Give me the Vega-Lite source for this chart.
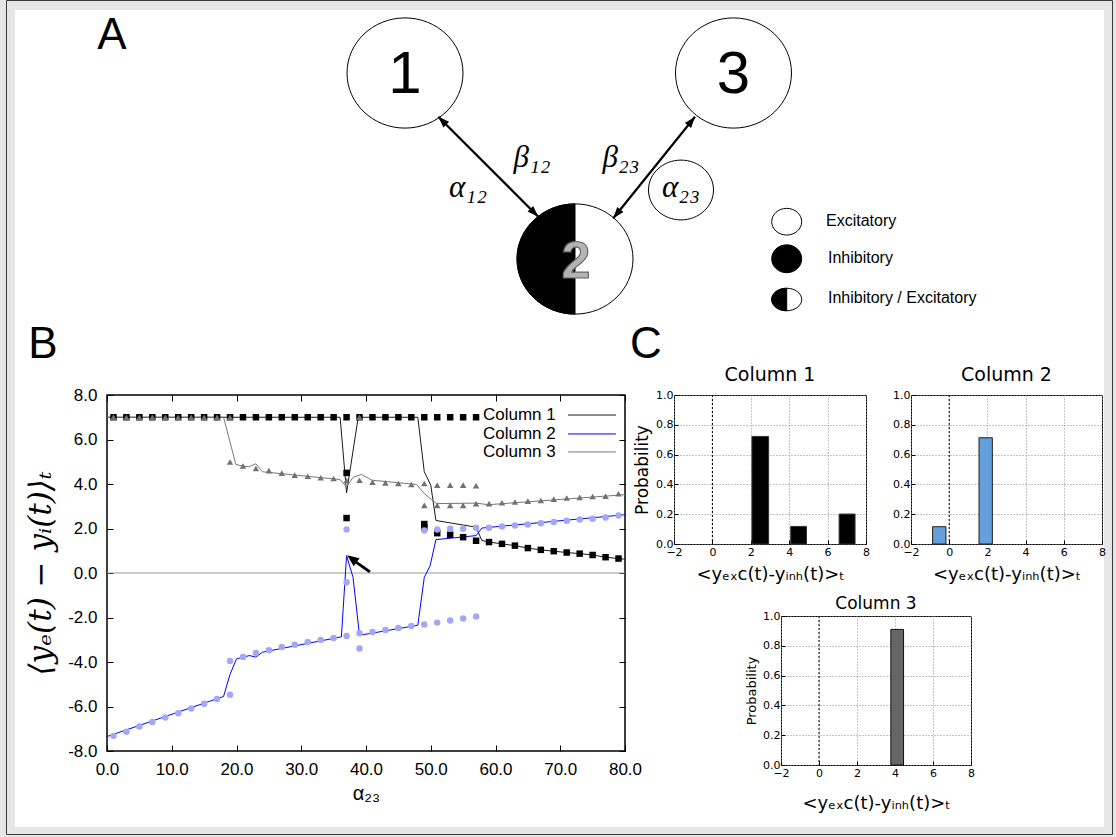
{
  "$schema": "https://vega.github.io/schema/vega-lite/v6.json",
  "background": "#e6e6e6",
  "padding": {"left": 6, "top": 0, "right": 3, "bottom": 2},
  "config": {
    "view": {"stroke": null},
    "font": "Liberation Sans",
    "axis": {"labelColor": "#000", "titleColor": "#000", "tickColor": "#000", "labelFlush": false, "labelOverlap": false},
    "title": {"color": "#000"}
  },
  "datasets": {
    "lines": [
      {"s":"Column 1","x":0,"y":7},{"s":"Column 1","x":36,"y":7},{"s":"Column 1","x":37,"y":3.6},{"s":"Column 1","x":38.8,"y":7},{"s":"Column 1","x":48,"y":7},{"s":"Column 1","x":49,"y":4.55},{"s":"Column 1","x":50,"y":3.95},{"s":"Column 1","x":50.8,"y":2.36},{"s":"Column 1","x":57,"y":2.06},{"s":"Column 1","x":57.9,"y":1.46},{"s":"Column 1","x":59,"y":1.39},{"s":"Column 1","x":61,"y":1.31},{"s":"Column 1","x":63,"y":1.23},{"s":"Column 1","x":65,"y":1.12},{"s":"Column 1","x":67,"y":1.04},{"s":"Column 1","x":69,"y":0.98},{"s":"Column 1","x":71,"y":0.92},{"s":"Column 1","x":73,"y":0.87},{"s":"Column 1","x":75,"y":0.81},{"s":"Column 1","x":77,"y":0.71},{"s":"Column 1","x":79,"y":0.65},{"s":"Column 1","x":80,"y":0.62},
      {"s":"Column 2","x":0,"y":-7.35},{"s":"Column 2","x":18,"y":-5.55},{"s":"Column 2","x":19,"y":-4.56},{"s":"Column 2","x":20,"y":-3.86},{"s":"Column 2","x":22,"y":-3.71},{"s":"Column 2","x":23,"y":-3.78},{"s":"Column 2","x":24,"y":-3.56},{"s":"Column 2","x":36.2,"y":-2.87},{"s":"Column 2","x":37,"y":0.78},{"s":"Column 2","x":38,"y":-0.2},{"s":"Column 2","x":39,"y":-2.8},{"s":"Column 2","x":48,"y":-2.35},{"s":"Column 2","x":49,"y":-0.2},{"s":"Column 2","x":49.9,"y":0.33},{"s":"Column 2","x":50.8,"y":1.5},{"s":"Column 2","x":57,"y":1.68},{"s":"Column 2","x":57.9,"y":2.02},{"s":"Column 2","x":80,"y":2.62},
      {"s":"Column 3","x":0,"y":7},{"s":"Column 3","x":18,"y":7},{"s":"Column 3","x":19.9,"y":4.88},{"s":"Column 3","x":21,"y":4.8},{"s":"Column 3","x":22,"y":4.78},{"s":"Column 3","x":23,"y":4.91},{"s":"Column 3","x":24,"y":4.55},{"s":"Column 3","x":36,"y":4.2},{"s":"Column 3","x":37,"y":3.87},{"s":"Column 3","x":38,"y":4.3},{"s":"Column 3","x":39.3,"y":4.43},{"s":"Column 3","x":40.9,"y":4.17},{"s":"Column 3","x":47.8,"y":3.98},{"s":"Column 3","x":49,"y":3.57},{"s":"Column 3","x":50.9,"y":3.12},{"s":"Column 3","x":57,"y":3.14},{"s":"Column 3","x":58.9,"y":3.07},{"s":"Column 3","x":80,"y":3.52}
    ],
    "pts": [
      {"m":"Column 1","x":1,"y":7},{"m":"Column 1","x":3,"y":7},{"m":"Column 1","x":5,"y":7},{"m":"Column 1","x":7,"y":7},{"m":"Column 1","x":9,"y":7},{"m":"Column 1","x":11,"y":7},{"m":"Column 1","x":13,"y":7},{"m":"Column 1","x":15,"y":7},{"m":"Column 1","x":17,"y":7},{"m":"Column 1","x":19,"y":7},{"m":"Column 1","x":21,"y":7},{"m":"Column 1","x":23,"y":7},{"m":"Column 1","x":25,"y":7},{"m":"Column 1","x":27,"y":7},{"m":"Column 1","x":29,"y":7},{"m":"Column 1","x":31,"y":7},{"m":"Column 1","x":33,"y":7},{"m":"Column 1","x":35,"y":7},{"m":"Column 1","x":37,"y":7},{"m":"Column 1","x":39,"y":7},{"m":"Column 1","x":41,"y":7},{"m":"Column 1","x":43,"y":7},{"m":"Column 1","x":45,"y":7},{"m":"Column 1","x":47,"y":7},{"m":"Column 1","x":49,"y":7},{"m":"Column 1","x":51,"y":7},{"m":"Column 1","x":53,"y":7},{"m":"Column 1","x":55,"y":7},{"m":"Column 1","x":57,"y":7},
      {"m":"Column 1","x":37,"y":4.5},{"m":"Column 1","x":37,"y":2.47},{"m":"Column 1","x":49,"y":2.2},{"m":"Column 1","x":49,"y":2.05},{"m":"Column 1","x":51,"y":1.79},{"m":"Column 1","x":53,"y":1.72},{"m":"Column 1","x":55,"y":1.61},{"m":"Column 1","x":57,"y":1.45},{"m":"Column 1","x":59,"y":1.39},{"m":"Column 1","x":61,"y":1.31},{"m":"Column 1","x":63,"y":1.23},{"m":"Column 1","x":65,"y":1.12},{"m":"Column 1","x":67,"y":1.04},{"m":"Column 1","x":69,"y":0.98},{"m":"Column 1","x":71,"y":0.92},{"m":"Column 1","x":73,"y":0.87},{"m":"Column 1","x":75,"y":0.81},{"m":"Column 1","x":77,"y":0.71},{"m":"Column 1","x":79,"y":0.65},
      {"m":"Column 2","x":1,"y":-7.32},{"m":"Column 2","x":3,"y":-7.13},{"m":"Column 2","x":5,"y":-6.9},{"m":"Column 2","x":7,"y":-6.7},{"m":"Column 2","x":9,"y":-6.49},{"m":"Column 2","x":11,"y":-6.3},{"m":"Column 2","x":13,"y":-6.09},{"m":"Column 2","x":15,"y":-5.88},{"m":"Column 2","x":17,"y":-5.66},{"m":"Column 2","x":19,"y":-3.96},{"m":"Column 2","x":19,"y":-5.47},{"m":"Column 2","x":21,"y":-3.77},{"m":"Column 2","x":23,"y":-3.6},{"m":"Column 2","x":25,"y":-3.47},{"m":"Column 2","x":27,"y":-3.33},{"m":"Column 2","x":29,"y":-3.22},{"m":"Column 2","x":31,"y":-3.1},{"m":"Column 2","x":33,"y":-3.01},{"m":"Column 2","x":35,"y":-2.92},{"m":"Column 2","x":37,"y":-2.83},{"m":"Column 2","x":37,"y":-0.42},{"m":"Column 2","x":37,"y":1.96},{"m":"Column 2","x":39,"y":-2.71},{"m":"Column 2","x":39,"y":-3.39},{"m":"Column 2","x":41,"y":-2.65},{"m":"Column 2","x":43,"y":-2.56},{"m":"Column 2","x":45,"y":-2.47},{"m":"Column 2","x":47,"y":-2.38},{"m":"Column 2","x":49,"y":-2.31},{"m":"Column 2","x":49,"y":1.91},{"m":"Column 2","x":51,"y":-2.23},{"m":"Column 2","x":51,"y":1.96},{"m":"Column 2","x":53,"y":-2.14},{"m":"Column 2","x":53,"y":1.99},{"m":"Column 2","x":55,"y":-2.05},{"m":"Column 2","x":55,"y":1.99},{"m":"Column 2","x":57,"y":-1.96},{"m":"Column 2","x":57,"y":2.03},{"m":"Column 2","x":59,"y":2.03},{"m":"Column 2","x":61,"y":2.09},{"m":"Column 2","x":63,"y":2.14},{"m":"Column 2","x":65,"y":2.18},{"m":"Column 2","x":67,"y":2.24},{"m":"Column 2","x":69,"y":2.29},{"m":"Column 2","x":71,"y":2.35},{"m":"Column 2","x":73,"y":2.4},{"m":"Column 2","x":75,"y":2.44},{"m":"Column 2","x":77,"y":2.49},{"m":"Column 2","x":79,"y":2.58},
      {"m":"Column 3","x":1,"y":7},{"m":"Column 3","x":3,"y":7},{"m":"Column 3","x":5,"y":7},{"m":"Column 3","x":7,"y":7},{"m":"Column 3","x":9,"y":7},{"m":"Column 3","x":11,"y":7},{"m":"Column 3","x":13,"y":7},{"m":"Column 3","x":15,"y":7},{"m":"Column 3","x":17,"y":7},{"m":"Column 3","x":19,"y":7},{"m":"Column 3","x":39,"y":7},
      {"m":"Column 3","x":19,"y":4.99},{"m":"Column 3","x":21,"y":4.81},{"m":"Column 3","x":23,"y":4.7},{"m":"Column 3","x":25,"y":4.6},{"m":"Column 3","x":27,"y":4.49},{"m":"Column 3","x":29,"y":4.4},{"m":"Column 3","x":31,"y":4.35},{"m":"Column 3","x":33,"y":4.28},{"m":"Column 3","x":35,"y":4.25},{"m":"Column 3","x":37,"y":4.16},{"m":"Column 3","x":39,"y":4.17},{"m":"Column 3","x":41,"y":4.08},{"m":"Column 3","x":43,"y":4.05},{"m":"Column 3","x":45,"y":4.02},{"m":"Column 3","x":47,"y":3.98},{"m":"Column 3","x":49,"y":4.02},{"m":"Column 3","x":49,"y":3.04},{"m":"Column 3","x":51,"y":3.95},{"m":"Column 3","x":51,"y":3.04},{"m":"Column 3","x":53,"y":3.95},{"m":"Column 3","x":53,"y":3.04},{"m":"Column 3","x":55,"y":3.95},{"m":"Column 3","x":55,"y":3.04},{"m":"Column 3","x":57,"y":3.92},{"m":"Column 3","x":57,"y":3.12},{"m":"Column 3","x":59,"y":3.12},{"m":"Column 3","x":61,"y":3.16},{"m":"Column 3","x":63,"y":3.19},{"m":"Column 3","x":65,"y":3.23},{"m":"Column 3","x":67,"y":3.26},{"m":"Column 3","x":69,"y":3.32},{"m":"Column 3","x":71,"y":3.37},{"m":"Column 3","x":73,"y":3.4},{"m":"Column 3","x":75,"y":3.44},{"m":"Column 3","x":77,"y":3.45},{"m":"Column 3","x":79,"y":3.56}
    ]
  },
  "bounds": "flush",
  "spacing": 45,
  "vconcat": [
    {
      "width": 1089,
      "height": 340,
      "view": {"stroke": null},
      "layer": [
        {
          "data": {"values": [{"x": -8.5, "y": -9.5, "x2": 1097.5, "y2": 824.5}]},
          "mark": {"type": "rect", "filled": false, "color": "#3a3a3a", "strokeWidth": 1},
          "encoding": {
            "x": {"field": "x", "type": "quantitative", "scale": {"domain": [0, 1089], "nice": false, "zero": false}, "axis": null},
            "x2": {"field": "x2"},
            "y": {"field": "y", "type": "quantitative", "scale": {"domain": [0, 340], "nice": false, "zero": false, "reverse": true}, "axis": null},
            "y2": {"field": "y2"}
          }
        },
        {
          "data": {"values": [{"x": 0, "y": 0, "x2": 1089, "y2": 817}]},
          "mark": {"type": "rect", "fill": "#ffffff", "strokeWidth": 0},
          "encoding": {
            "x": {"field": "x", "type": "quantitative", "axis": null},
            "x2": {"field": "x2"},
            "y": {"field": "y", "type": "quantitative", "axis": null},
            "y2": {"field": "y2"}
          }
        },
        {
          "data": {"values": [{"x": 390, "y": 63}, {"x": 718.5, "y": 63}, {"x": 560, "y": 249}]},
          "mark": {"type": "point", "shape": "M-1,0A1,0.95 0 1,1 1,0A1,0.95 0 1,1 -1,0Z", "size": 13456, "filled": true, "fill": "#ffffff", "stroke": "#000000", "strokeWidth": 1, "opacity": 1},
          "encoding": {
            "x": {"field": "x", "type": "quantitative", "axis": null},
            "y": {"field": "y", "type": "quantitative", "axis": null}
          }
        },
        {
          "data": {"values": [{"x": 560, "y": 249}]},
          "mark": {"type": "point", "shape": "M0,-0.95A1,0.95 0 0,0 0,0.95Z", "size": 13456, "filled": true, "fill": "#000000", "stroke": "#000000", "strokeWidth": 1, "opacity": 1},
          "encoding": {
            "x": {"field": "x", "type": "quantitative", "axis": null},
            "y": {"field": "y", "type": "quantitative", "axis": null}
          }
        },
        {
          "data": {"values": [{"x": 390, "y": 65, "t": "1"}, {"x": 718.5, "y": 65, "t": "3"}]},
          "mark": {"type": "text", "font": "Liberation Sans", "fontSize": 60, "align": "center", "baseline": "middle", "color": "#000"},
          "encoding": {
            "x": {"field": "x", "type": "quantitative", "axis": null},
            "y": {"field": "y", "type": "quantitative", "axis": null},
            "text": {"field": "t"}
          }
        },
        {
          "data": {"values": [{"x": 561, "y": 252, "t": "2"}]},
          "mark": {"type": "text", "font": "Liberation Sans", "fontSize": 52, "fontWeight": "bold", "align": "center", "baseline": "middle", "fill": "#b4b4b4", "stroke": "#666666", "strokeWidth": 1.2},
          "encoding": {
            "x": {"field": "x", "type": "quantitative", "axis": null},
            "y": {"field": "y", "type": "quantitative", "axis": null},
            "text": {"field": "t"}
          }
        },
        {
          "data": {"values": [{"x": 423.3, "y": 106.7, "x2": 523.3, "y2": 206.7}, {"x": 598.3, "y": 208.3, "x2": 680, "y2": 106.7}]},
          "mark": {"type": "rule", "color": "#000", "strokeWidth": 2.2},
          "encoding": {
            "x": {"field": "x", "type": "quantitative", "axis": null},
            "y": {"field": "y", "type": "quantitative", "axis": null},
            "x2": {"field": "x2"},
            "y2": {"field": "y2"}
          }
        },
        {
          "data": {"values": [{"x": 423.3, "y": 106.7}]},
          "mark": {"type": "point", "shape": "M0,0L0.5,1.4L-0.5,1.4Z", "size": 256, "angle": 315, "filled": true, "color": "#000", "opacity": 1},
          "encoding": {"x": {"field": "x", "type": "quantitative", "axis": null}, "y": {"field": "y", "type": "quantitative", "axis": null}}
        },
        {
          "data": {"values": [{"x": 523.3, "y": 206.7}]},
          "mark": {"type": "point", "shape": "M0,0L0.5,1.4L-0.5,1.4Z", "size": 256, "angle": 135, "filled": true, "color": "#000", "opacity": 1},
          "encoding": {"x": {"field": "x", "type": "quantitative", "axis": null}, "y": {"field": "y", "type": "quantitative", "axis": null}}
        },
        {
          "data": {"values": [{"x": 598.3, "y": 208.3}]},
          "mark": {"type": "point", "shape": "M0,0L0.5,1.4L-0.5,1.4Z", "size": 256, "angle": 218.8, "filled": true, "color": "#000", "opacity": 1},
          "encoding": {"x": {"field": "x", "type": "quantitative", "axis": null}, "y": {"field": "y", "type": "quantitative", "axis": null}}
        },
        {
          "data": {"values": [{"x": 680, "y": 106.7}]},
          "mark": {"type": "point", "shape": "M0,0L0.5,1.4L-0.5,1.4Z", "size": 256, "angle": 38.8, "filled": true, "color": "#000", "opacity": 1},
          "encoding": {"x": {"field": "x", "type": "quantitative", "axis": null}, "y": {"field": "y", "type": "quantitative", "axis": null}}
        },
        {
          "data": {"values": [{"x": 453, "y": 178, "t": "α₁₂"}, {"x": 517, "y": 148, "t": "β₁₂"}, {"x": 606, "y": 148, "t": "β₂₃"}, {"x": 666, "y": 178, "t": "α₂₃"}]},
          "mark": {"type": "text", "font": "Liberation Serif", "fontSize": 31, "fontStyle": "italic", "align": "center", "baseline": "middle", "color": "#000"},
          "encoding": {
            "x": {"field": "x", "type": "quantitative", "axis": null},
            "y": {"field": "y", "type": "quantitative", "axis": null},
            "text": {"field": "t"}
          }
        },
        {
          "data": {"values": [{"x": 666, "y": 180}]},
          "mark": {"type": "point", "shape": "M-1,0A1,0.92 0 1,1 1,0A1,0.92 0 1,1 -1,0Z", "size": 4225, "filled": false, "color": "#000", "strokeWidth": 1, "opacity": 1},
          "encoding": {"x": {"field": "x", "type": "quantitative", "axis": null}, "y": {"field": "y", "type": "quantitative", "axis": null}}
        },
        {
          "data": {"values": [{"x": 771.7, "y": 211.7}]},
          "mark": {"type": "point", "shape": "M-1,0A1,0.89 0 1,1 1,0A1,0.89 0 1,1 -1,0Z", "size": 900, "filled": true, "fill": "#fff", "stroke": "#000", "strokeWidth": 1, "opacity": 1},
          "encoding": {"x": {"field": "x", "type": "quantitative", "axis": null}, "y": {"field": "y", "type": "quantitative", "axis": null}}
        },
        {
          "data": {"values": [{"x": 771.7, "y": 248.8}]},
          "mark": {"type": "point", "shape": "M-1,0A1,0.93 0 1,1 1,0A1,0.93 0 1,1 -1,0Z", "size": 900, "filled": true, "fill": "#000", "stroke": "#000", "strokeWidth": 1, "opacity": 1},
          "encoding": {"x": {"field": "x", "type": "quantitative", "axis": null}, "y": {"field": "y", "type": "quantitative", "axis": null}}
        },
        {
          "data": {"values": [{"x": 771.7, "y": 289.5}]},
          "mark": {"type": "point", "shape": "M-1,0A1,0.75 0 1,1 1,0A1,0.75 0 1,1 -1,0Z", "size": 900, "filled": true, "fill": "#fff", "stroke": "#000", "strokeWidth": 1, "opacity": 1},
          "encoding": {"x": {"field": "x", "type": "quantitative", "axis": null}, "y": {"field": "y", "type": "quantitative", "axis": null}}
        },
        {
          "data": {"values": [{"x": 771.7, "y": 289.5}]},
          "mark": {"type": "point", "shape": "M0,-0.75A1,0.75 0 0,0 0,0.75Z", "size": 900, "filled": true, "fill": "#000", "stroke": "#000", "strokeWidth": 1, "opacity": 1},
          "encoding": {"x": {"field": "x", "type": "quantitative", "axis": null}, "y": {"field": "y", "type": "quantitative", "axis": null}}
        },
        {
          "data": {"values": [{"x": 811, "y": 210.7, "t": "Excitatory"}, {"x": 813, "y": 248, "t": "Inhibitory"}, {"x": 813, "y": 288, "t": "Inhibitory / Excitatory"}]},
          "mark": {"type": "text", "font": "Liberation Sans", "fontSize": 16, "align": "left", "baseline": "middle", "color": "#000"},
          "encoding": {
            "x": {"field": "x", "type": "quantitative", "axis": null},
            "y": {"field": "y", "type": "quantitative", "axis": null},
            "text": {"field": "t"}
          }
        },
        {
          "data": {"values": [{"x": 97, "y": 26, "t": "A"}, {"x": 28, "y": 335, "t": "B"}, {"x": 631, "y": 335, "t": "C"}]},
          "mark": {"type": "text", "font": "Liberation Sans", "fontSize": 44, "align": "center", "baseline": "middle", "color": "#000"},
          "encoding": {
            "x": {"field": "x", "type": "quantitative", "axis": null},
            "y": {"field": "y", "type": "quantitative", "axis": null},
            "text": {"field": "t"}
          }
        }
      ]
    },
    {
      "bounds": "flush",
      "spacing": 49,
      "hconcat": [
        {
          "width": 43, "height": 20,
          "data": {"values": [{}]},
          "mark": {"type": "text", "text": ""},
          "encoding": {},
          "view": {"stroke": null}
        },
        {
          "width": 518,
          "height": 356,
          "view": {"stroke": "#000", "strokeWidth": 1.5},
          "resolve": {"axis": {"x": "independent", "y": "independent"}},
          "layer": [
            {
              "data": {"values": [{"z": 0}]},
              "mark": {"type": "rule", "color": "#9a9a9a", "strokeWidth": 1.2},
              "encoding": {"y": {"field": "z", "type": "quantitative", "axis": null}}
            },
            {
              "data": {"name": "lines"},
              "mark": {"type": "line"},
              "encoding": {
                "x": {"field": "x", "type": "quantitative", "scale": {"domain": [0, 80], "nice": false, "zero": false},
                  "axis": {"orient": "bottom", "values": [0,10,20,30,40,50,60,70,80], "format": ".1f", "labelFont": "Liberation Sans", "labelFontSize": 17, "labelPadding": 16, "labelFlush": false, "labelOverlap": false, "tickSize": -6, "tickWidth": 1, "domain": false, "grid": false, "title": "α₂₃", "titleFont": "Liberation Sans", "titleFontSize": 20, "titleFontWeight": "normal", "titlePadding": 6}},
                "y": {"field": "y", "type": "quantitative", "scale": {"domain": [-8, 8], "nice": false, "zero": false},
                  "axis": {"orient": "left", "values": [-8,-6,-4,-2,0,2,4,6,8], "format": ".1f", "labelExpr": "replace(datum.label, '−', '-')", "labelFont": "Liberation Sans", "labelFontSize": 17, "labelPadding": 16, "labelFlush": false, "labelOverlap": false, "tickSize": -6, "tickWidth": 1, "domain": false, "grid": false, "title": "⟨yₑ(t) − yᵢ(t)⟩ₜ", "titleFont": "DejaVu Serif", "titleFontSize": 31, "titleFontWeight": "normal", "titleFontStyle": "italic", "titlePadding": 10}},
                "stroke": {"field": "s", "type": "nominal", "scale": {"domain": ["Column 1", "Column 2", "Column 3"], "range": ["#1a1a1a", "#0000ff", "#777777"]}, "legend": null},
                "strokeWidth": {"field": "s", "type": "ordinal", "scale": {"domain": ["Column 1", "Column 2", "Column 3"], "range": [1, 1, 2]}, "legend": null}
              }
            },
            {
              "data": {"name": "pts"},
              "mark": {"type": "point", "filled": true, "opacity": 1, "size": 42, "strokeWidth": 0},
              "encoding": {
                "x": {"field": "x", "type": "quantitative", "axis": {"orient": "top", "values": [0,10,20,30,40,50,60,70,80], "labels": false, "tickSize": -6, "domain": false, "grid": false, "title": null}},
                "y": {"field": "y", "type": "quantitative", "axis": {"orient": "right", "values": [-8,-6,-4,-2,0,2,4,6,8], "labels": false, "tickSize": -6, "domain": false, "grid": false, "title": null}},
                "fill": {"field": "m", "type": "nominal", "scale": {"domain": ["Column 1", "Column 2", "Column 3"], "range": ["#000000", "#a3a8f5", "#717171"]}, "legend": null},
                "shape": {"field": "m", "type": "nominal", "scale": {"domain": ["Column 1", "Column 2", "Column 3"], "range": ["square", "circle", "triangle-up"]}, "legend": null}
              }
            },
            {
              "data": {"values": [{"t": "Column 1", "x": 69.3, "y": 7.1}, {"t": "Column 2", "x": 69.3, "y": 6.25}, {"t": "Column 3", "x": 69.3, "y": 5.44}]},
              "mark": {"type": "text", "font": "Liberation Sans", "fontSize": 17, "align": "right", "baseline": "middle", "color": "#000"},
              "encoding": {
                "x": {"field": "x", "type": "quantitative", "axis": null},
                "y": {"field": "y", "type": "quantitative", "axis": null},
                "text": {"field": "t"}
              }
            },
            {
              "data": {"values": [{"s": "Column 1", "x": 71.2, "x2": 78.6, "y": 7.1}, {"s": "Column 2", "x": 71.2, "x2": 78.6, "y": 6.25}, {"s": "Column 3", "x": 71.2, "x2": 78.6, "y": 5.44}]},
              "mark": {"type": "rule"},
              "encoding": {
                "x": {"field": "x", "type": "quantitative", "axis": null},
                "x2": {"field": "x2"},
                "y": {"field": "y", "type": "quantitative", "axis": null},
                "stroke": {"field": "s", "type": "nominal", "legend": null},
                "strokeWidth": {"field": "s", "type": "ordinal", "legend": null}
              }
            },
            {
              "data": {"values": [{"x": 40.6, "y": 0.05, "x2": 38.4, "y2": 0.5}]},
              "mark": {"type": "rule", "color": "#000", "strokeWidth": 3},
              "encoding": {
                "x": {"field": "x", "type": "quantitative", "axis": null},
                "y": {"field": "y", "type": "quantitative", "axis": null},
                "x2": {"field": "x2"},
                "y2": {"field": "y2"}
              }
            },
            {
              "data": {"values": [{"x": 37.1, "y": 0.8}]},
              "mark": {"type": "point", "shape": "M0,0L0.55,1.3L-0.55,1.3Z", "size": 324, "angle": 306.5, "filled": true, "color": "#000", "opacity": 1},
              "encoding": {
                "x": {"field": "x", "type": "quantitative", "axis": null},
                "y": {"field": "y", "type": "quantitative", "axis": null}
              }
            }
          ]
        },
        {
          "bounds": "flush",
          "spacing": 221,
          "vconcat": [
            {
              "bounds": "flush",
              "spacing": 45,
              "hconcat": [
                {
                  "width": 192, "height": 149,
                  "title": {"text": "Column 1", "font": "DejaVu Sans", "fontSize": 19, "fontWeight": "normal", "offset": 4, "color": "#000"},
                  "view": {"stroke": "#000", "strokeWidth": 1},
                  "layer": [
                    {
                      "data": {"values": [{"lo": 2.06, "hi": 2.93, "p": 0.722}, {"lo": 4.08, "hi": 4.9, "p": 0.118}, {"lo": 6.6, "hi": 7.43, "p": 0.201}]},
                      "mark": {"type": "rect", "fill": "#000", "stroke": "#333", "strokeWidth": 1},
                      "encoding": {
                        "x": {"field": "lo", "type": "quantitative", "scale": {"domain": [-2, 8], "nice": false, "zero": false},
                          "axis": {"values": [-2,0,2,4,6,8], "format": "d", "labelFont": "DejaVu Sans", "labelFontSize": 11, "labelPadding": 6, "labelFlush": false, "labelOverlap": false, "labelBound": false, "tickSize": -4, "domain": false, "grid": true, "gridColor": "#8c8c8c", "gridDash": [1, 2], "title": "<yₑₓc(t)-yᵢₙₕ(t)>ₜ", "titleFont": "DejaVu Sans", "titleFontSize": 18, "titleFontWeight": "normal", "titlePadding": 8}},
                        "x2": {"field": "hi"},
                        "y": {"field": "p", "type": "quantitative", "scale": {"domain": [0, 1], "nice": false},
                          "axis": {"values": [0,0.2,0.4,0.6,0.8,1], "format": ".1f", "labelFont": "DejaVu Sans", "labelFontSize": 11, "labelPadding": 5, "labelFlush": false, "labelOverlap": false, "tickSize": -4, "domain": false, "grid": true, "gridColor": "#8c8c8c", "gridDash": [1, 2], "title": "Probability", "titleFont": "DejaVu Sans", "titleFontSize": 17, "titleFontWeight": "normal", "titlePadding": 4}},
                        "y2": {"datum": 0}
                      }
                    },
                    {
                      "data": {"values": [{"lo": 0}]},
                      "mark": {"type": "rule", "color": "#000", "strokeDash": [2, 2], "strokeWidth": 1},
                      "encoding": {"x": {"field": "lo", "type": "quantitative",
                        "axis": {"values": [-2,0,2,4,6,8], "format": "d", "labelFont": "DejaVu Sans", "labelFontSize": 11, "labelPadding": 6, "labelFlush": false, "labelOverlap": false, "labelBound": false, "tickSize": -4, "domain": false, "grid": true, "gridColor": "#8c8c8c", "gridDash": [1, 2], "title": "<yₑₓc(t)-yᵢₙₕ(t)>ₜ", "titleFont": "DejaVu Sans", "titleFontSize": 18, "titleFontWeight": "normal", "titlePadding": 8}}}
                    }
                  ]
                },
                {
                  "width": 191, "height": 149,
                  "title": {"text": "Column 2", "font": "DejaVu Sans", "fontSize": 19, "fontWeight": "normal", "offset": 4, "color": "#000"},
                  "view": {"stroke": "#000", "strokeWidth": 1},
                  "layer": [
                    {
                      "data": {"values": [{"lo": -0.87, "hi": -0.17, "p": 0.116}, {"lo": 1.56, "hi": 2.26, "p": 0.713}]},
                      "mark": {"type": "rect", "fill": "#629fdb", "stroke": "#222", "strokeWidth": 1},
                      "encoding": {
                        "x": {"field": "lo", "type": "quantitative", "scale": {"domain": [-2, 8], "nice": false, "zero": false},
                          "axis": {"values": [-2,0,2,4,6,8], "format": "d", "labelFont": "DejaVu Sans", "labelFontSize": 11, "labelPadding": 6, "labelFlush": false, "labelOverlap": false, "labelBound": false, "tickSize": -4, "domain": false, "grid": true, "gridColor": "#8c8c8c", "gridDash": [1, 2], "title": "<yₑₓc(t)-yᵢₙₕ(t)>ₜ", "titleFont": "DejaVu Sans", "titleFontSize": 18, "titleFontWeight": "normal", "titlePadding": 8}},
                        "x2": {"field": "hi"},
                        "y": {"field": "p", "type": "quantitative", "scale": {"domain": [0, 1], "nice": false},
                          "axis": {"values": [0,0.2,0.4,0.6,0.8,1], "format": ".1f", "labelFont": "DejaVu Sans", "labelFontSize": 11, "labelPadding": 5, "labelFlush": false, "labelOverlap": false, "tickSize": -4, "domain": false, "grid": true, "gridColor": "#8c8c8c", "gridDash": [1, 2], "title": null}},
                        "y2": {"datum": 0}
                      }
                    },
                    {
                      "data": {"values": [{"lo": 0}]},
                      "mark": {"type": "rule", "color": "#000", "strokeDash": [2, 2], "strokeWidth": 1},
                      "encoding": {"x": {"field": "lo", "type": "quantitative",
                        "axis": {"values": [-2,0,2,4,6,8], "format": "d", "labelFont": "DejaVu Sans", "labelFontSize": 11, "labelPadding": 6, "labelFlush": false, "labelOverlap": false, "labelBound": false, "tickSize": -4, "domain": false, "grid": true, "gridColor": "#8c8c8c", "gridDash": [1, 2], "title": "<yₑₓc(t)-yᵢₙₕ(t)>ₜ", "titleFont": "DejaVu Sans", "titleFontSize": 18, "titleFontWeight": "normal", "titlePadding": 8}}}
                    }
                  ]
                }
              ]
            },
            {
              "bounds": "flush",
              "spacing": 0,
              "hconcat": [
                {
                  "width": 107, "height": 20,
                  "data": {"values": [{}]},
                  "mark": {"type": "text", "text": ""},
                  "encoding": {},
                  "view": {"stroke": null}
                },
                {
                  "width": 190, "height": 149,
                  "title": {"text": "Column 3", "font": "DejaVu Sans", "fontSize": 17, "fontWeight": "normal", "offset": -3, "color": "#000"},
                  "view": {"stroke": "#000", "strokeWidth": 1},
                  "layer": [
                    {
                      "data": {"values": [{"lo": 3.78, "hi": 4.45, "p": 0.91}]},
                      "mark": {"type": "rect", "fill": "#666666", "stroke": "#111", "strokeWidth": 1},
                      "encoding": {
                        "x": {"field": "lo", "type": "quantitative", "scale": {"domain": [-2, 8], "nice": false, "zero": false},
                          "axis": {"values": [-2,0,2,4,6,8], "format": "d", "labelFont": "DejaVu Sans", "labelFontSize": 11, "labelPadding": 6, "labelFlush": false, "labelOverlap": false, "labelBound": false, "tickSize": -4, "domain": false, "grid": true, "gridColor": "#8c8c8c", "gridDash": [1, 2], "title": "<yₑₓc(t)-yᵢₙₕ(t)>ₜ", "titleFont": "DejaVu Sans", "titleFontSize": 18, "titleFontWeight": "normal", "titlePadding": 16}},
                        "x2": {"field": "hi"},
                        "y": {"field": "p", "type": "quantitative", "scale": {"domain": [0, 1], "nice": false},
                          "axis": {"values": [0,0.2,0.4,0.6,0.8,1], "format": ".1f", "labelFont": "DejaVu Sans", "labelFontSize": 11, "labelPadding": 5, "labelFlush": false, "labelOverlap": false, "tickSize": -4, "domain": false, "grid": true, "gridColor": "#8c8c8c", "gridDash": [1, 2], "title": "Probability", "titleFont": "DejaVu Sans", "titleFontSize": 13, "titleFontWeight": "normal", "titlePadding": 4}},
                        "y2": {"datum": 0}
                      }
                    },
                    {
                      "data": {"values": [{"lo": 0}]},
                      "mark": {"type": "rule", "color": "#000", "strokeDash": [2, 2], "strokeWidth": 1},
                      "encoding": {"x": {"field": "lo", "type": "quantitative",
                        "axis": {"values": [-2,0,2,4,6,8], "format": "d", "labelFont": "DejaVu Sans", "labelFontSize": 11, "labelPadding": 6, "labelFlush": false, "labelOverlap": false, "labelBound": false, "tickSize": -4, "domain": false, "grid": true, "gridColor": "#8c8c8c", "gridDash": [1, 2], "title": "<yₑₓc(t)-yᵢₙₕ(t)>ₜ", "titleFont": "DejaVu Sans", "titleFontSize": 18, "titleFontWeight": "normal", "titlePadding": 16}}}
                    }
                  ]
                }
              ]
            }
          ]
        }
      ]
    }
  ]
}
